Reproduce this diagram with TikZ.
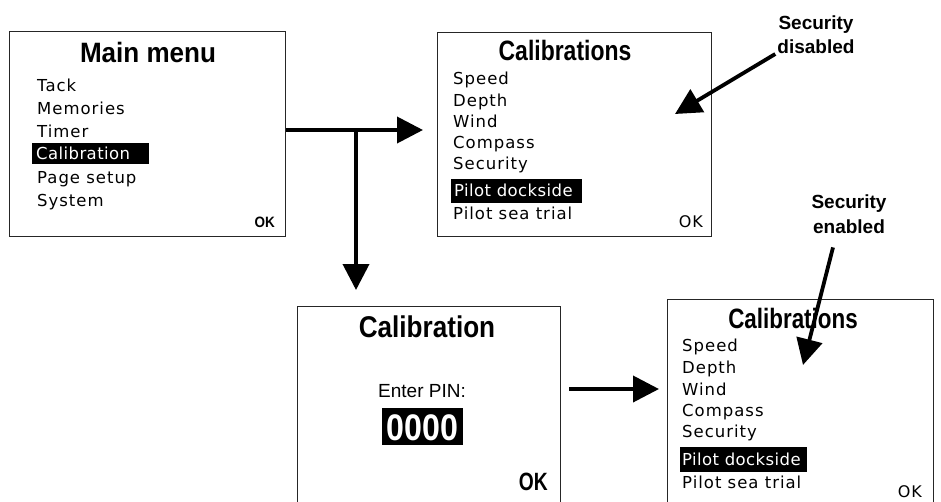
\documentclass[tikz,border=0pt]{standalone}
\usepackage{fontspec}
\setmainfont{Liberation Sans}
\newfontfamily\itemfont[LetterSpace=6]{DejaVu Sans}
\newfontfamily\hlfont[LetterSpace=2.5]{DejaVu Sans}
\usetikzlibrary{arrows.meta,calc}
\begin{document}
\begin{tikzpicture}[x=1pt,y=-1pt,
  screen/.style={draw=black!85, line width=1.3pt, inner sep=0pt, anchor=north west, fill=white},
  item/.style={anchor=base west, inner sep=0pt, font=\itemfont\fontsize{16.5}{17}\selectfont},
  hitem/.style={anchor=base west, inner sep=0pt, text=white, font=\hlfont\fontsize{16.5}{17}\selectfont},
  okplain/.style={anchor=base east, inner sep=0pt, font=\itemfont\fontsize{16}{16}\selectfont},
  ttl/.style={anchor=base, inner sep=0pt, font=\bfseries\fontsize{28}{28}\selectfont},
  lbl/.style={anchor=base, inner sep=0pt, font=\bfseries\fontsize{19}{19}\selectfont},
  arr/.style={line width=3.8pt, -{Triangle[length=26pt,width=26pt]}},
  hl/.style={fill=black},
]
\useasboundingbox (0,0) rectangle (941,501);
\fill[white] (0,0) rectangle (941,501);
\clip (0,0) rectangle (941,501);

% ---------- Main menu ----------
\node[screen, minimum width=276pt, minimum height=205pt] (menu) at (9,31) {};
\node[ttl] (menuT) at (148,62) {\scalebox{0.93}[1]{Main menu}};
\node[item] (m1) at (37,91) {Tack};
\node[item] (m2) at (37,114) {Memories};
\node[item] (m3) at (37,137) {Timer};
\fill[hl] (32,143) rectangle (149,164);
\node[hitem] (m4) at (36,159) {Calibration};
\node[item] (m5) at (37,183) {Page setup};
\node[item] (m6) at (37,206) {System};
\node[anchor=base east, inner sep=0pt, font=\bfseries\fontsize{15}{15}\selectfont] (menuOK) at (275,227) {\scalebox{0.9}[1]{OK}};

% ---------- Calibrations (security disabled) ----------
\node[screen, minimum width=274pt, minimum height=204pt] (cal1) at (437,32) {};
\node[ttl] (cal1T) at (565,60) {\scalebox{0.82}[1]{Calibrations}};
\node[item] (c1) at (453,84) {Speed};
\node[item] (c2) at (453,106) {Depth};
\node[item] (c3) at (453,127) {Wind};
\node[item] (c4) at (453,148) {Compass};
\node[item] (c5) at (453,169) {Security};
\fill[hl] (451,179) rectangle (582,203);
\node[hitem] (c6) at (454,196) {Pilot dockside};
\node[item] (c7) at (453,219) {Pilot sea trial};
\node[okplain] (cal1OK) at (703,227) {OK};

\node[lbl] (dis1) at (816,29) {Security};
\node[lbl] (dis2) at (816,53) {disabled};
\coordinate (t1) at (675,114);
\draw[arr] ($(dis2.base west)+(-2,1)$) -- (t1);

% ---------- Calibration PIN ----------
\node[screen, minimum width=263pt, minimum height=215pt] (pin) at (297,306) {};
\node[anchor=base, inner sep=0pt, font=\bfseries\fontsize{30}{30}\selectfont] (pinT) at (427,337) {\scalebox{0.87}[1]{Calibration}};
\node[anchor=base, inner sep=0pt, font=\fontsize{19}{19}\selectfont] (pinL) at (422,397) {Enter PIN:};
\fill[hl] (382,408) rectangle (463,445);
\node[anchor=base, inner sep=0pt, text=white, font=\bfseries\fontsize{37}{37}\selectfont] (pinV) at (422.5,440) {\scalebox{0.87}[1]{0000}};
\node[anchor=base east, inner sep=0pt, font=\bfseries\fontsize{25}{25}\selectfont] (pinOK) at (548,490) {\scalebox{0.77}[1]{OK}};

% ---------- Calibrations (security enabled) ----------
\node[screen, minimum width=266pt, minimum height=220pt] (cal2) at (667,299) {};
\node[ttl] (cal2T) at (793,328) {\scalebox{0.80}[1]{Calibrations}};
\node[item] (d1) at (682,351) {Speed};
\node[item] (d2) at (682,373) {Depth};
\node[item] (d3) at (682,395) {Wind};
\node[item] (d4) at (682,416) {Compass};
\node[item] (d5) at (682,437) {Security};
\fill[hl] (680,447) rectangle (807,472);
\node[hitem] (d6) at (682,465) {Pilot dockside};
\node[item] (d7) at (682,488) {Pilot sea trial};
\node[okplain] (cal2OK) at (922,497) {OK};

\node[lbl] (en1) at (849,208) {Security};
\node[lbl] (en2) at (849,233) {enabled};
\coordinate (t2) at (803,365);
\draw[arr] ($(en2.south)+(-16,14)$) -- (t2);

% ---------- flow arrows ----------
\coordinate (j) at (356,130);
\draw[arr] (menu.east |- j) -- ($(cal1.west |- j)+(-14,0)$);
\draw[arr] (j) -- ($(j |- pin.north)+(0,-16)$);
\coordinate (k) at (560,389);
\draw[arr] ($(pin.east |- k)+(8,0)$) -- ($(cal2.west |- k)+(-8,0)$);
\end{tikzpicture}
\end{document}
